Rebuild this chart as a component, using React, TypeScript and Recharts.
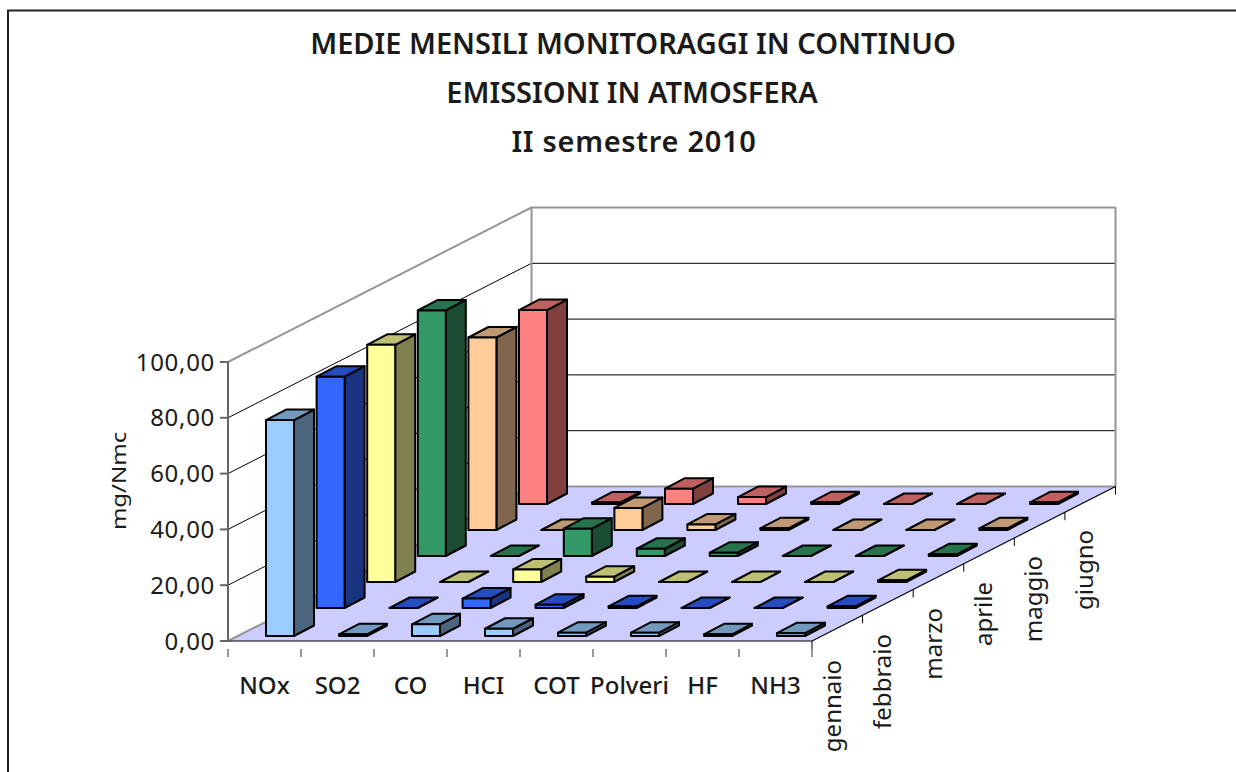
import React from 'react'
import { ComposedChart, Bar, XAxis, YAxis, ReferenceLine } from 'recharts'

const pollutants = ['NOx', 'SO2', 'CO', 'HCI', 'COT', 'Polveri', 'HF', 'NH3']
const months = ['gennaio', 'febbraio', 'marzo', 'aprile', 'maggio', 'giugno']
const yTicks = [0, 20, 40, 60, 80, 100]

const gennaio = [77.4, 0.6, 4.2, 2.6, 1.2, 1.2, 0.6, 1]
const febbraio = [82.9, 0, 3.4, 1.2, 0.6, 0, 0, 0.6]
const marzo = [85, 0, 4.5, 1.9, 0, 0, 0, 0.6]
const aprile = [88, 0, 9.8, 2.6, 1.2, 0, 0, 0.6]
const maggio = [69, 0, 7.9, 2, 0.6, 0, 0, 0.6]
const giugno = [69.5, 0.5, 5.5, 2.5, 0.6, 0, 0, 0.6]
const seriesValues = [gennaio, febbraio, marzo, aprile, maggio, giugno]

const frontColors = ['#99ccff', '#3366ff', '#ffff99', '#339966', '#ffcc99', '#ff8080']
const topColors = ['#7399bf', '#264dbf', '#bfbf73', '#26734d', '#bf9973', '#bf6060']
const sideColors = ['#4d6680', '#1a3380', '#808050', '#1a4d33', '#80664d', '#804040']

const chartData = pollutants.map((name, i) => {
    const row: Record<string, any> = { name }
    months.forEach((m, r) => { row[m] = seriesValues[r][i] })
    return row
})

const font = '"Noto Sans", sans-serif'
const textColor = '#1a1a1a'

// oblique projection of the depth axis
const depthX = 303.5
const depthY = 154.5
const rowX = 50.6
const barDepthX = 20
const barDepthY = 10.5
const bandWidth = 73

const pts = (list: number[][]) => list.map((p) => p.join(',')).join(' ')

const Bar3D = (row: number) => (props: any) => {
    const { x, y, width, height } = props
    const l = x + 16.1 + row * rowX
    const r = l + width - 1
    const t = y - (row === 0 ? 5 : 7 + 26 * row)
    const b = t + height
    const common = { stroke: '#000', strokeWidth: 2, strokeLinejoin: 'round' as const }
    return (
        <g>
            <polygon points={pts([[r, t], [r + barDepthX, t - barDepthY], [r + barDepthX, b - barDepthY], [r, b]])} fill={sideColors[row]} {...common} />
            <polygon points={pts([[l, t], [l + barDepthX, t - barDepthY], [r + barDepthX, t - barDepthY], [r, t]])} fill={topColors[row]} {...common} />
            <polygon points={pts([[l, t], [r, t], [r, b], [l, b]])} fill={frontColors[row]} {...common} />
        </g>
    )
}

// wall grid line: front axis -> back corner -> right side
const WallLine = (props: any) => {
    const { x1, x2, y1 } = props
    const isTop = Math.abs(y1 - 362) < 2
    const backX = x1 + depthX
    const backRight = x2 + depthX
    const backY = y1 - depthY
    return (
        <g>
            <line x1={x1} y1={y1} x2={backX} y2={backY} stroke={isTop ? '#969696' : '#000'} strokeWidth={isTop ? 2 : 1} />
            <line x1={backX} y1={backY} x2={backRight} y2={backY} stroke={isTop ? '#969696' : '#000'} strokeWidth={isTop ? 2 : 1} />
        </g>
    )
}

// floor, back wall edges and the depth axis with its month labels
const Floor = (props: any) => {
    const { x1, x2, y1 } = props
    const backY = y1 - depthY
    const wallTop = backY - 279.5
    return (
        <g>
            <line x1={x1 + depthX} y1={wallTop} x2={x1 + depthX} y2={backY} stroke="#969696" strokeWidth={2} />
            <line x1={x2 + depthX} y1={wallTop} x2={x2 + depthX} y2={backY} stroke="#969696" strokeWidth={2} />
            <polygon points={pts([[x1, y1], [x2, y1], [x2 + depthX, backY], [x1 + depthX, backY]])} fill="#ccccff" stroke="none" />
            <line x1={x1} y1={y1} x2={x1 + depthX} y2={backY} stroke="#969696" strokeWidth={2} />
            <line x1={x1 + depthX} y1={backY} x2={x2 + depthX} y2={backY} stroke="#969696" strokeWidth={2} />
            <line x1={x1} y1={y1} x2={x2} y2={y1} stroke="#000" strokeWidth={1.2} />
            <line x1={x2} y1={y1} x2={x2 + depthX} y2={backY} stroke="#000" strokeWidth={1.2} />
            {[0, 1, 2, 3, 4, 5, 6].map((i) => (
                <line
                    key={i}
                    x1={x2 + (depthX * i) / 6}
                    y1={y1 - (depthY * i) / 6}
                    x2={x2 + (depthX * i) / 6}
                    y2={y1 - (depthY * i) / 6 + 8}
                    stroke="#000"
                    strokeWidth={1}
                />
            ))}
            {months.map((m, i) => {
                const tx = x2 + 29 + i * 50.3
                const ty = y1 + 19 - i * 26
                return (
                    <text key={m} x={tx} y={ty} transform={`rotate(-90 ${tx} ${ty})`} textAnchor="end" fontFamily={font} fontSize={24} fill={textColor}>
                        {m}
                    </text>
                )
            })}
        </g>
    )
}

const CategoryTick = (props: any) => {
    const { x, y, payload, index } = props
    const left = x - bandWidth / 2
    return (
        <g>
            <line x1={left} y1={y} x2={left} y2={y + 8} stroke="#333" strokeWidth={1} />
            {index === pollutants.length - 1 && <line x1={left + bandWidth} y1={y} x2={left + bandWidth} y2={y + 8} stroke="#333" strokeWidth={1} />}
            <text x={x} y={y + 45} textAnchor="middle" fontFamily={font} fontSize={24} fontWeight={500} fill={textColor}>
                {payload.value}
            </text>
        </g>
    )
}

const App = () => {
    return (
        <div style={{ position: 'absolute', left: 0, top: 0, width: 1236, height: 772, background: '#fff', overflow: 'hidden' }}>
            <ComposedChart
                width={1236}
                height={772}
                data={chartData}
                barCategoryGap="30%"
                margin={{ top: 362, right: 424, bottom: 101, left: 148 }}
            >
                <rect x={8} y={10.5} width={1240} height={780} fill="none" stroke="#222" strokeWidth={2} />
                <text x={633} y={54} textAnchor="middle" fontFamily={font} fontSize={29} fontWeight={600} fill={textColor}>MEDIE MENSILI MONITORAGGI IN CONTINUO</text>
                <text x={632} y={103} textAnchor="middle" fontFamily={font} fontSize={29} fontWeight={600} fill={textColor}>EMISSIONI IN ATMOSFERA</text>
                <text x={634} y={152} textAnchor="middle" fontFamily={font} fontSize={29} fontWeight={600} letterSpacing={0.7} fill={textColor}>II semestre 2010</text>
                <text transform="translate(126 481) rotate(-90) scale(1 0.8)" textAnchor="middle" fontFamily={font} fontSize={24} fill={textColor}>mg/Nmc</text>
                <XAxis
                    dataKey="name"
                    xAxisId="front"
                    axisLine={false}
                    tickLine={false}
                    interval={0}
                    height={30}
                    tick={CategoryTick}
                />
                {months.map((m) => (
                    <XAxis key={m} dataKey="name" xAxisId={m} hide height={0} />
                ))}
                <YAxis
                    domain={[0, 100]}
                    ticks={yTicks}
                    width={80}
                    interval={0}
                    tickFormatter={(v: number) => v.toFixed(2).replace('.', ',')}
                    tick={{ fontFamily: font, fontSize: 24, fill: textColor, letterSpacing: 0.7 }}
                    tickSize={8}
                    tickMargin={5}
                    stroke="#666"
                    strokeWidth={2}
                />
                <ReferenceLine y={0} xAxisId="front" shape={Floor} ifOverflow="visible" zIndex={-60} />
                {yTicks.slice(1).map((t) => (
                    <ReferenceLine key={t} y={t} xAxisId="front" shape={WallLine} ifOverflow="visible" zIndex={-70} />
                ))}
                {months.map((m, r) => r).reverse().map((r) => (
                    <Bar key={months[r]} dataKey={months[r]} xAxisId={months[r]} shape={Bar3D(r)} isAnimationActive={false} />
                ))}
            </ComposedChart>
        </div>
    )
}

export default App
